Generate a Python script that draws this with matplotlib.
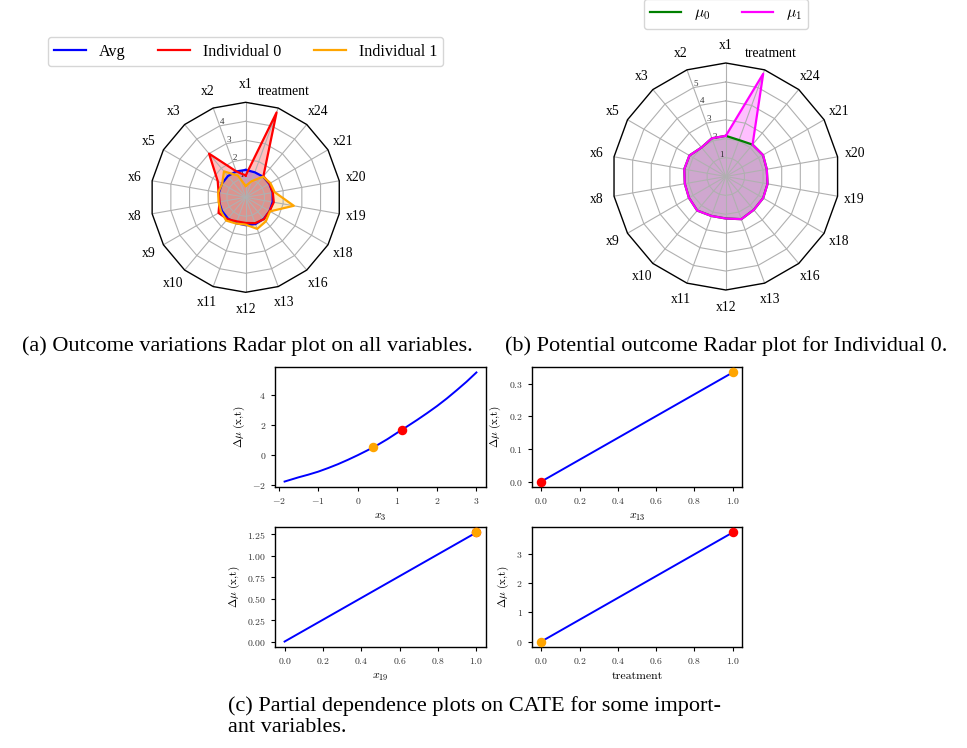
import numpy as np
import matplotlib
matplotlib.use("Agg")
import matplotlib.pyplot as plt
from matplotlib.patches import RegularPolygon
from matplotlib.path import Path
from matplotlib.projections import register_projection
from matplotlib.projections.polar import PolarAxes
from matplotlib.spines import Spine
from matplotlib.transforms import Affine2D

plt.rcParams["font.family"] = "serif"
plt.rcParams["font.serif"] = ["Liberation Serif", "DejaVu Serif"]
plt.rcParams["mathtext.fontset"] = "cm"
plt.rcParams["axes.formatter.use_mathtext"] = True

# ---------------- data ----------------
variables = ["x1", "x2", "x3", "x5", "x6", "x8", "x9", "x10", "x11", "x12",
             "x13", "x16", "x18", "x19", "x20", "x21", "x24", "treatment"]

avg_var = [1.44, 1.45, 1.46, 1.44, 1.43, 1.42, 1.44, 1.46, 1.45, 1.47,
           1.5, 1.48, 1.45, 1.44, 1.44, 1.43, 1.42, 1.4]
ind0_var = [1.15, 1.45, 3.0, 1.7, 1.45, 1.4, 1.65, 1.5, 1.35, 1.35,
            1.45, 1.5, 1.45, 1.5, 1.45, 1.45, 1.45, 4.75]
ind1_var = [0.6, 1.22, 1.78, 1.43, 1.47, 1.45, 1.5, 1.6, 1.47, 1.44,
            1.77, 1.65, 1.48, 2.57, 1.55, 1.5, 1.42, 0.9]

mu0_ind0 = [2.15, 2.15, 2.0, 2.22, 2.23, 2.2, 2.25, 2.35, 2.22, 2.22,
            2.4, 2.3, 2.28, 2.24, 2.2, 2.27, 2.2, 2.05]
mu1_ind0 = [2.15, 2.15, 2.0, 2.22, 2.23, 2.2, 2.25, 2.35, 2.22, 2.22,
            2.4, 2.3, 2.28, 2.24, 2.2, 2.27, 2.2, 5.78]

x3_grid = [-1.85, -1.5, -1.25, -1.0, -0.75, -0.5, -0.25, 0.0, 0.25, 0.5,
           0.75, 1.0, 1.25, 1.5, 1.75, 2.0, 2.25, 2.5, 2.75, 3.0]
x3_cate = [-1.76, -1.48, -1.3, -1.1, -0.86, -0.6, -0.31, 0.0, 0.33, 0.68,
           1.07, 1.5, 1.92, 2.35, 2.8, 3.27, 3.78, 4.33, 4.9, 5.52]
x3_ind0, x3_ind0_cate = 1.13, 1.71
x3_ind1, x3_ind1_cate = 0.39, 0.54

x13_grid = [0.0, 1.0]
x13_cate = [0.0, 0.335]
x13_ind0, x13_ind0_cate = 0.0, 0.0
x13_ind1, x13_ind1_cate = 1.0, 0.335

x19_grid = [0.0, 1.0]
x19_cate = [0.0, 1.27]
x19_ind0, x19_ind0_cate = 1.0, 1.27
x19_ind1, x19_ind1_cate = 1.0, 1.27

t_grid = [0.0, 1.0]
t_cate = [0.0, 3.73]
t_ind0, t_ind0_cate = 1.0, 3.73
t_ind1, t_ind1_cate = 0.0, 0.0


# ---------------- radar projection ----------------
def radar_factory(num_vars):
    theta = np.linspace(0, 2 * np.pi, num_vars, endpoint=False)

    class RadarTransform(PolarAxes.PolarTransform):
        def transform_path_non_affine(self, path):
            if path._interpolation_steps > 1:
                path = path.interpolated(num_vars)
            return Path(self.transform(path.vertices), path.codes)

    class RadarAxes(PolarAxes):
        name = "radar"
        PolarTransform = RadarTransform

        def __init__(self, *args, **kwargs):
            super().__init__(*args, **kwargs)
            self.set_theta_zero_location("N")

        def fill(self, *args, closed=True, **kwargs):
            return super().fill(closed=closed, *args, **kwargs)

        def plot(self, *args, **kwargs):
            lines = super().plot(*args, **kwargs)
            for line in lines:
                x, y = line.get_data()
                if x[0] != x[-1]:
                    line.set_data(np.append(x, x[0]), np.append(y, y[0]))
            return lines

        def set_varlabels(self, labels):
            self.set_thetagrids(np.degrees(theta), labels)

        def _gen_axes_patch(self):
            return RegularPolygon((0.5, 0.5), num_vars, radius=0.5, edgecolor="k")

        def _gen_axes_spines(self):
            spine = Spine(axes=self, spine_type="circle",
                          path=Path.unit_regular_polygon(num_vars))
            spine.set_transform(Affine2D().scale(0.5).translate(0.5, 0.5)
                                + self.transAxes)
            return {"polar": spine}

    register_projection(RadarAxes)
    return theta


theta = radar_factory(len(variables))

W, H = 967, 748
fig = plt.figure(figsize=(W / 100, H / 100), dpi=100)


def box(left, top, right, bottom):
    return [left / W, 1 - bottom / H, (right - left) / W, (bottom - top) / H]


def style_radar(ax, rmax, rticks):
    ax.set_ylim(0, rmax)
    ax.set_rgrids(rticks, labels=[str(t) for t in rticks], fontsize=6.5,
                  color="#333333")
    ax.set_rlabel_position(20)
    ax.set_varlabels(variables)
    ax.tick_params(axis="x", pad=2, labelsize=9.8)
    ax.spines["polar"].set_linewidth(1.0)


# (a) outcome variations radar
axa = fig.add_axes(box(150.7, 102.3, 340.7, 292.3), projection="radar")
style_radar(axa, 5, [1, 2, 3, 4])
for vals, col, lab in [(avg_var, "blue", "Avg"),
                       (ind0_var, "red", "Individual 0"),
                       (ind1_var, "orange", "Individual 1")]:
    axa.plot(theta, vals, color=col, lw=1.6, label=lab)
    axa.fill(theta, vals, facecolor=col, alpha=0.25)
fig.legend(handles=axa.get_lines(), loc="center",
           bbox_to_anchor=(245.5 / W, 1 - 51.5 / H), ncol=3, fontsize=11.6)

# (b) potential outcomes radar for Individual 0
axb = fig.add_axes(box(612.3, 63, 839.3, 290), projection="radar")
style_radar(axb, 6, [1, 2, 3, 4, 5])
for vals, col, lab in [(mu0_ind0, "green", r"$\mu_0$"),
                       (mu1_ind0, "magenta", r"$\mu_1$")]:
    axb.plot(theta, vals, color=col, lw=1.6, label=lab)
    axb.fill(theta, vals, facecolor=col, alpha=0.25)
fig.legend(handles=axb.get_lines(), loc="center",
           bbox_to_anchor=(726 / W, 1 - 14 / H), ncol=2, fontsize=11.3)

fig.text(247 / W, 1 - 346 / H,
         "(a) Outcome variations Radar plot on all variables.",
         ha="center", va="center", fontsize=16)
fig.text(726.5 / W, 1 - 346 / H,
         "(b) Potential outcome Radar plot for Individual 0.",
         ha="center", va="center", fontsize=16)

# (c) partial dependence plots
pdp_panels = [
    (box(275, 367, 486, 487), x3_grid, x3_cate, r"$x_3$",
     (x3_ind0, x3_ind0_cate), (x3_ind1, x3_ind1_cate)),
    (box(531.7, 367, 742.3, 487), x13_grid, x13_cate, r"$x_{13}$",
     (x13_ind0, x13_ind0_cate), (x13_ind1, x13_ind1_cate)),
    (box(275, 527, 486, 647), x19_grid, x19_cate, r"$x_{19}$",
     (x19_ind0, x19_ind0_cate), (x19_ind1, x19_ind1_cate)),
    (box(531.7, 527, 742.3, 647), t_grid, t_cate, "treatment",
     (t_ind0, t_ind0_cate), (t_ind1, t_ind1_cate)),
]
for rect, gx, gy, xlab, p0, p1 in pdp_panels:
    ax = fig.add_axes(rect)
    ax.plot(gx, gy, color="blue", lw=1.4)
    ax.scatter([p0[0]], [p0[1]], s=34, color="red", zorder=3)
    ax.scatter([p1[0]], [p1[1]], s=34, color="orange", zorder=3)
    ax.set_xlabel(xlab, fontsize=8.5, fontfamily="cmr10")
    ax.set_ylabel(r"$\Delta\mu$ (x,t)", fontsize=8, fontfamily="cmr10")
    ax.tick_params(labelsize=7, labelfontfamily="cmr10", labelcolor="#333333",
                   length=3, width=0.8)
    for sp in ax.spines.values():
        sp.set_linewidth(1.0)

fig.text(228 / W, 1 - 706 / H,
         "(c) Partial dependence plots on CATE for some import-",
         ha="left", va="center", fontsize=16)
fig.text(228 / W, 1 - 728 / H, "ant variables.",
         ha="left", va="center", fontsize=16)

fig.savefig("out.png", dpi=100)
